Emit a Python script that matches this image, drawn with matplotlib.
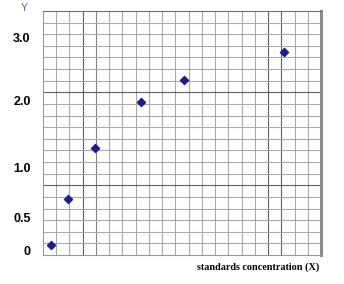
import numpy as np
import matplotlib.pyplot as plt

# Data (in grid squares from the lower-left corner)
conc = [0.58, 1.89, 3.95, 7.43, 10.64, 18.24]
signal = [0.89, 4.82, 9.18, 13.14, 15.03, 17.44]

# y labels and where they sit on the paper (grid squares)
ytick_labels = ['0', '0.5', '1.0', '2.0', '3.0']
ytick_pos = [0.43, 3.27, 7.49, 13.34, 18.7]

ncols, nrows = 21, 21

fig = plt.figure(figsize=(3.44, 2.84), dpi=100)
ax = fig.add_axes([43 / 344, 29 / 284, 278 / 344, 244 / 284])
ax.set_xlim(0, ncols)
ax.set_ylim(0, nrows)

# graph paper
for i in range(1, ncols):
    c = '#aaaaaa'
    if i in (3, 17, 18):
        c = '#606060'
    elif i == 4:
        c = '#848484'
    ax.axvline(i, color=c, lw=0.8, zorder=1)
for j in range(1, nrows):
    c = '#606060' if j in (6, 14) else '#aaaaaa'
    ax.axhline(j, color=c, lw=0.8, zorder=1)

for s in ['left', 'bottom', 'top']:
    ax.spines[s].set_color('#9a9a9a')
    ax.spines[s].set_linewidth(0.8)
ax.spines['top'].set_color('#707070')
ax.spines['right'].set_color('#8c8c8c')
ax.spines['right'].set_linewidth(2.2)

ax.scatter(conc, signal, marker='D', s=17, color='#1c1c8e', zorder=3)

ax.set_xticks([])
ax.set_yticks(ytick_pos)
ax.set_yticklabels(ytick_labels, fontfamily='Liberation Sans', fontweight='bold', fontsize=9)
ax.tick_params(axis='y', length=0, pad=9)

fig.text(24.5 / 344, 1 - 8 / 284, 'Y', color='#5858a8', fontsize=7.5,
         fontfamily='Liberation Sans', ha='center', va='center')
fig.text(319 / 344, 1 - 267 / 284, 'standards concentration (X)', fontfamily='Liberation Serif',
         fontweight='bold', fontsize=7.3, ha='right', va='center')

plt.savefig('out.png', dpi=100)
